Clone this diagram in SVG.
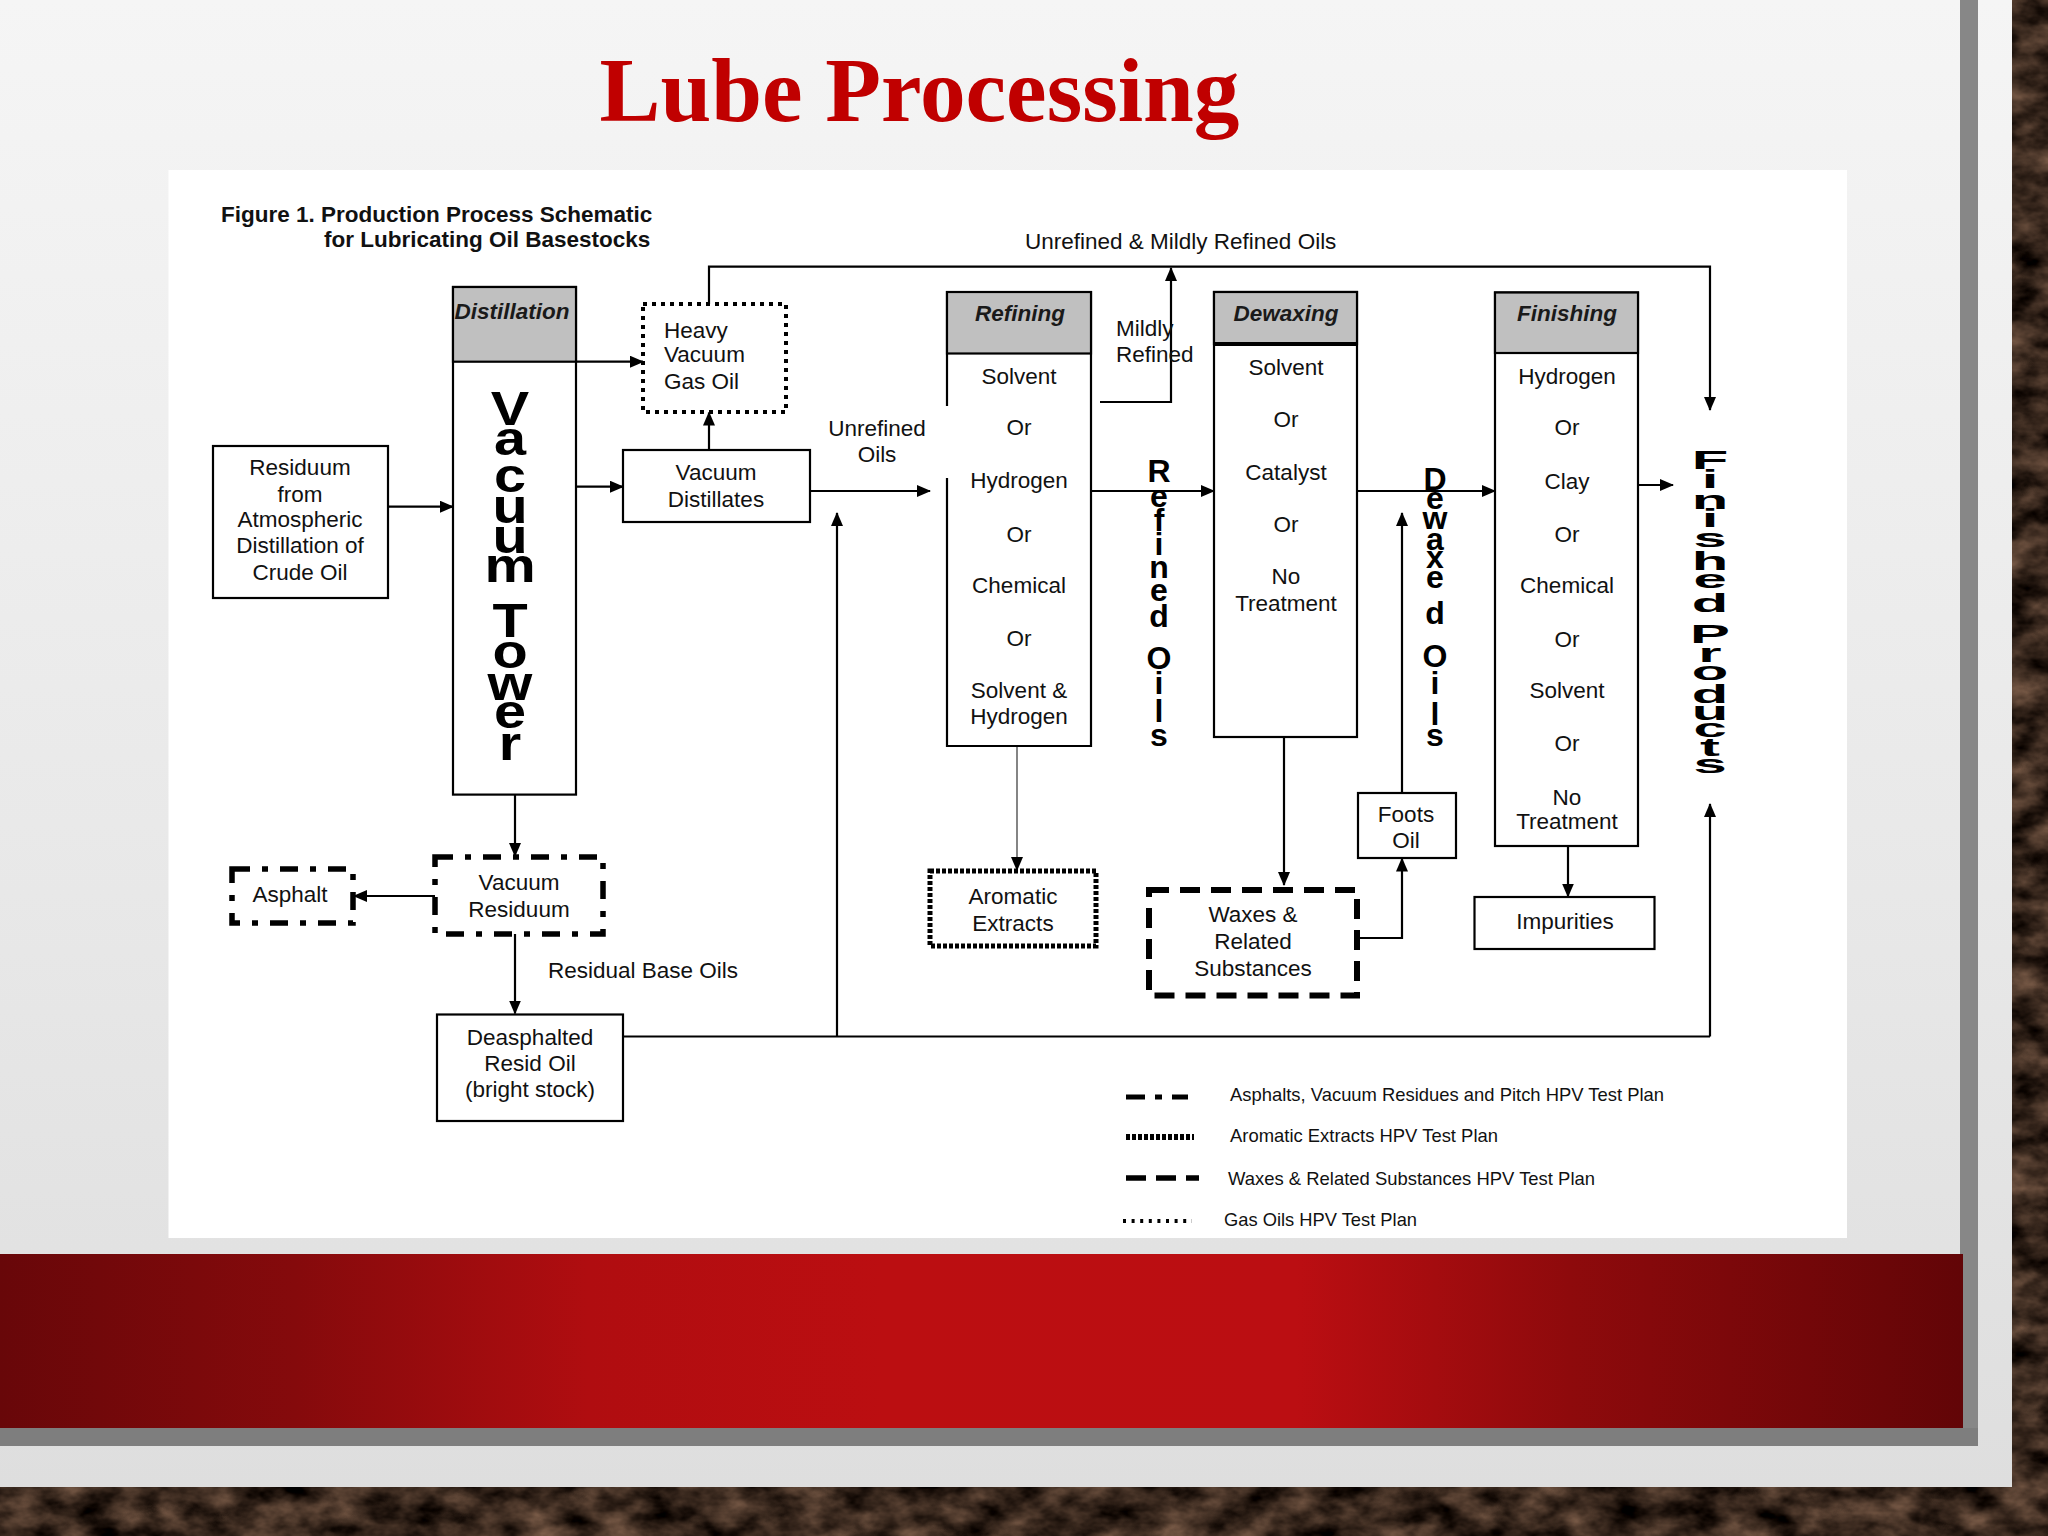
<svg xmlns="http://www.w3.org/2000/svg" width="2048" height="1536" viewBox="0 0 2048 1536">
<defs>
<linearGradient id="slideBg" x1="0" y1="0" x2="0" y2="1">
<stop offset="0" stop-color="#f5f5f5"/>
<stop offset="0.6" stop-color="#e8e8e8"/>
<stop offset="1" stop-color="#dedede"/>
</linearGradient>
<linearGradient id="redBand" x1="0" y1="0" x2="1" y2="0">
<stop offset="0" stop-color="#680709"/>
<stop offset="0.15" stop-color="#850a0c"/>
<stop offset="0.3" stop-color="#b00d10"/>
<stop offset="0.45" stop-color="#bb0e11"/>
<stop offset="0.66" stop-color="#bb0e12"/>
<stop offset="0.8" stop-color="#8e0a0c"/>
<stop offset="1" stop-color="#620507"/>
</linearGradient>
<filter id="brick" x="0" y="0" width="2048" height="1536" filterUnits="userSpaceOnUse" color-interpolation-filters="sRGB">
<feTurbulence type="fractalNoise" baseFrequency="0.025 0.04" numOctaves="4" seed="7"/>
<feColorMatrix type="matrix" values="0.7 0 0 0 -0.13  0.55 0 0 0 -0.12  0.45 0 0 0 -0.11  0 0 0 0 1"/>
</filter>
<marker id="ah" viewBox="0 0 14 12" refX="13" refY="6" markerWidth="14" markerHeight="12" markerUnits="userSpaceOnUse" orient="auto">
<path d="M0,0 L14,6 L0,12 z" fill="#000"/>
</marker>
<style>
.bx{fill:#fff;stroke:#000;stroke-width:2.2}
.hd{fill:#c0c0c0;stroke:#000;stroke-width:2.2}
.t{font-family:"Liberation Sans",Arial,sans-serif;font-size:22.5px;fill:#111}
.tc{text-anchor:middle}
.th{font-weight:bold;font-style:italic;fill:#1a1a1a}
.v{font-family:"Liberation Sans",Arial,sans-serif;font-weight:bold;fill:#000;text-anchor:middle}
.c{fill:none;stroke:#000;stroke-width:2.2;marker-end:url(#ah)}
.ln{fill:none;stroke:#000;stroke-width:2.2}
.dashdot{fill:#fff;stroke:#000;stroke-width:5.5;stroke-dasharray:18 12 6 12}
.dense{fill:#fff;stroke:#000;stroke-width:5;stroke-dasharray:4 2}
.dash{fill:#fff;stroke:#000;stroke-width:6;stroke-dasharray:20 11}
.dots{fill:#fff;stroke:#000;stroke-width:4;stroke-dasharray:4 5}
.lg{font-family:"Liberation Sans",Arial,sans-serif;font-size:19px;fill:#111}
</style>
</defs>

<!-- background -->
<rect x="0" y="0" width="2048" height="1536" fill="#3c281c"/>
<rect x="0" y="0" width="2048" height="1536" filter="url(#brick)"/>
<rect x="0" y="0" width="2012" height="1487" fill="url(#slideBg)"/>
<rect x="1960" y="0" width="18" height="1446" fill="#878787"/>
<rect x="0" y="1428" width="1978" height="18" fill="#7e7e7e"/>
<rect x="0" y="1254" width="1963" height="174" fill="url(#redBand)"/>
<rect x="168.5" y="170" width="1678.5" height="1068" fill="#ffffff"/>

<!-- title -->
<text x="599.5" y="121" font-family="'Liberation Serif','Times New Roman',serif" font-weight="bold" font-size="90" fill="#c00000" textLength="640" lengthAdjust="spacingAndGlyphs">Lube Processing</text>

<!-- caption -->
<g id="caption" class="t" font-weight="bold">
<text x="221" y="222">Figure 1. Production Process Schematic</text>
<text x="324" y="247">for Lubricating Oil Basestocks</text>
</g>

<!-- connectors -->
<g id="connectors">
<path class="c" d="M387.7,506.7 H453"/>
<path class="c" d="M576,361.7 H643"/>
<path class="c" d="M576,486.7 H623"/>
<path class="c" d="M709,450 V412.5"/>
<path class="c" d="M709,304 V266.7 H1710 V410"/>
<path class="c" d="M1100,402 H1171 V268"/>
<path class="c" d="M810,491 H930"/>
<path class="c" d="M1091,491 H1214"/>
<path class="c" d="M1357.5,491 H1495"/>
<path class="c" d="M1638,485 H1673"/>
<path class="c" d="M515,794.6 V856"/>
<path class="c" d="M435,896 H354"/>
<path class="c" d="M515,934 V1013.5"/>
<path class="ln" d="M623,1036.5 H1710"/>
<path class="c" d="M1710,1036.5 V804"/>
<path class="c" d="M837,1036.5 V513"/>
<path class="c" style="stroke:#666;stroke-width:1.6" d="M1017,746 V870"/>
<path class="c" d="M1284,737 V885"/>
<path class="c" d="M1357,938 H1402 V858.5"/>
<path class="c" d="M1402,793 V513"/>
<path class="c" d="M1568,846 V896.5"/>
</g>

<!-- nodes -->
<g id="residuum">
<rect class="bx" x="213" y="446" width="175" height="152"/>
<text class="t tc"><tspan x="300" y="475">Residuum</tspan><tspan x="300" y="502">from</tspan><tspan x="300" y="527">Atmospheric</tspan><tspan x="300" y="553">Distillation of</tspan><tspan x="300" y="580">Crude Oil</tspan></text>
</g>

<g id="distillation">
<rect class="bx" x="453" y="287" width="123" height="507.6"/>
<rect class="hd" x="453" y="287" width="123" height="74.7"/>
<text class="t tc th" x="512" y="319">Distillation</text>
<text class="v" font-size="48" transform="translate(510,0) scale(1.2,1)" x="0 0 0 0 0 0 0 0 0 0 0 0" y="425 455 492 523 553 582 610 637 668 700 728 760">Vacuum Tower</text>
</g>

<g id="hvgo">
<rect class="dots" x="643" y="304" width="143" height="108"/>
<text class="t"><tspan x="664" y="338">Heavy</tspan><tspan x="664" y="362">Vacuum</tspan><tspan x="664" y="389">Gas Oil</tspan></text>
</g>

<g id="vacuum-distillates">
<rect class="bx" x="623" y="450" width="187" height="72"/>
<text class="t tc"><tspan x="716" y="480">Vacuum</tspan><tspan x="716" y="507">Distillates</tspan></text>
</g>

<g id="unrefined-label">
<text class="t tc"><tspan x="877" y="436">Unrefined</tspan><tspan x="877" y="462">Oils</tspan></text>
</g>

<g id="refining">
<rect x="947" y="292" width="144" height="454" fill="#fff"/>
<path class="ln" d="M947,406 V292 H1091 V746 H947 V478"/>
<rect class="hd" x="947" y="292" width="144" height="61.5"/>
<text class="t tc th" x="1020" y="321">Refining</text>
<text class="t tc"><tspan x="1019" y="384">Solvent</tspan><tspan x="1019" y="435">Or</tspan><tspan x="1019" y="488">Hydrogen</tspan><tspan x="1019" y="542">Or</tspan><tspan x="1019" y="593">Chemical</tspan><tspan x="1019" y="646">Or</tspan><tspan x="1019" y="698">Solvent &amp;</tspan><tspan x="1019" y="724">Hydrogen</tspan></text>
</g>

<g id="mildly-label">
<text class="t"><tspan x="1116" y="336">Mildly</tspan><tspan x="1116" y="362">Refined</tspan></text>
</g>

<g id="top-label">
<text class="t" x="1025" y="249">Unrefined &amp; Mildly Refined Oils</text>
</g>

<g id="refined-oils">
<text class="v" font-size="32" x="1159 1159 1159 1159 1159 1159 1159 1159 1159 1159 1159 1159" y="482 507 531 555 578 601 627 648 669 694 722 746">Refined Oils</text>
</g>

<g id="dewaxing">
<rect class="bx" x="1214" y="292" width="143" height="445"/>
<rect class="hd" x="1214" y="292" width="143" height="52"/>
<line x1="1214" y1="344" x2="1357" y2="344" stroke="#000" stroke-width="4"/>
<text class="t tc th" x="1286" y="321">Dewaxing</text>
<text class="t tc"><tspan x="1286" y="375">Solvent</tspan><tspan x="1286" y="427">Or</tspan><tspan x="1286" y="480">Catalyst</tspan><tspan x="1286" y="532">Or</tspan><tspan x="1286" y="584">No</tspan><tspan x="1286" y="611">Treatment</tspan></text>
</g>

<g id="dewaxed-oils">
<text class="v" font-size="32" x="1435 1435 1435 1435 1435 1435 1435 1435 1435 1435 1435 1435" y="490 509 529 550 568 588 624 645 667 694 725 746">Dewaxed Oils</text>
</g>

<g id="finishing">
<rect class="bx" x="1495" y="292.5" width="143" height="553.5"/>
<rect class="hd" x="1495" y="292.5" width="143" height="60.5"/>
<text class="t tc th" x="1567" y="321">Finishing</text>
<text class="t tc"><tspan x="1567" y="384">Hydrogen</tspan><tspan x="1567" y="435">Or</tspan><tspan x="1567" y="488.5">Clay</tspan><tspan x="1567" y="542">Or</tspan><tspan x="1567" y="593">Chemical</tspan><tspan x="1567" y="646.7">Or</tspan><tspan x="1567" y="697.5">Solvent</tspan><tspan x="1567" y="751">Or</tspan><tspan x="1567" y="805">No</tspan><tspan x="1567" y="829">Treatment</tspan></text>
</g>

<g id="finished-products">
<text class="v" font-size="26" transform="translate(1710,0) scale(2.3,1)" x="0 0 0 0 0 0 0 0 0 0 0 0 0 0 0 0 0" y="469 488 509 527 547 570 588 612 620 643 662 680 703 720 737 756 773">Finished Products</text>
</g>

<g id="vacuum-residuum">
<rect class="dashdot" x="435" y="857" width="168" height="77"/>
<text class="t tc"><tspan x="519" y="890">Vacuum</tspan><tspan x="519" y="917">Residuum</tspan></text>
</g>

<g id="asphalt">
<rect class="dashdot" x="232" y="869" width="121" height="54"/>
<text class="t tc" x="290" y="902">Asphalt</text>
</g>

<g id="residual-label">
<text class="t" x="548" y="978">Residual Base Oils</text>
</g>

<g id="dro">
<rect class="bx" x="437" y="1014.5" width="186" height="106.5"/>
<text class="t tc"><tspan x="530" y="1045">Deasphalted</tspan><tspan x="530" y="1071">Resid Oil</tspan><tspan x="530" y="1097">(bright stock)</tspan></text>
</g>

<g id="aromatic-extracts">
<rect class="dense" x="930" y="871" width="166" height="75"/>
<text class="t tc"><tspan x="1013" y="904">Aromatic</tspan><tspan x="1013" y="931">Extracts</tspan></text>
</g>

<g id="waxes">
<rect class="dash" x="1149" y="890" width="208" height="105.5"/>
<text class="t tc"><tspan x="1253" y="922">Waxes &amp;</tspan><tspan x="1253" y="949">Related</tspan><tspan x="1253" y="976">Substances</tspan></text>
</g>

<g id="foots-oil">
<rect class="bx" x="1358" y="793" width="98" height="65"/>
<text class="t tc"><tspan x="1406" y="822">Foots</tspan><tspan x="1406" y="848">Oil</tspan></text>
</g>

<g id="impurities">
<rect class="bx" x="1474.5" y="897" width="180" height="52"/>
<text class="t tc" x="1565" y="929">Impurities</text>
</g>

<!-- legend -->
<g id="legend">
<line x1="1126" y1="1097" x2="1188" y2="1097" stroke="#000" stroke-width="5" stroke-dasharray="19 10 7 10"/>
<line x1="1126" y1="1137" x2="1194" y2="1137" stroke="#000" stroke-width="6" stroke-dasharray="4 2"/>
<line x1="1126" y1="1178" x2="1199" y2="1178" stroke="#000" stroke-width="5.5" stroke-dasharray="20 10"/>
<line x1="1123" y1="1221" x2="1192" y2="1221" stroke="#000" stroke-width="4" stroke-dasharray="3 5.6"/>
<text class="lg" x="1230" y="1101" textLength="434" lengthAdjust="spacingAndGlyphs">Asphalts, Vacuum Residues and Pitch HPV Test Plan</text>
<text class="lg" x="1230" y="1142" textLength="268" lengthAdjust="spacingAndGlyphs">Aromatic Extracts HPV Test Plan</text>
<text class="lg" x="1228" y="1185" textLength="367" lengthAdjust="spacingAndGlyphs">Waxes &amp; Related Substances HPV Test Plan</text>
<text class="lg" x="1224" y="1226" textLength="193" lengthAdjust="spacingAndGlyphs">Gas Oils HPV Test Plan</text>
</g>
</svg>
